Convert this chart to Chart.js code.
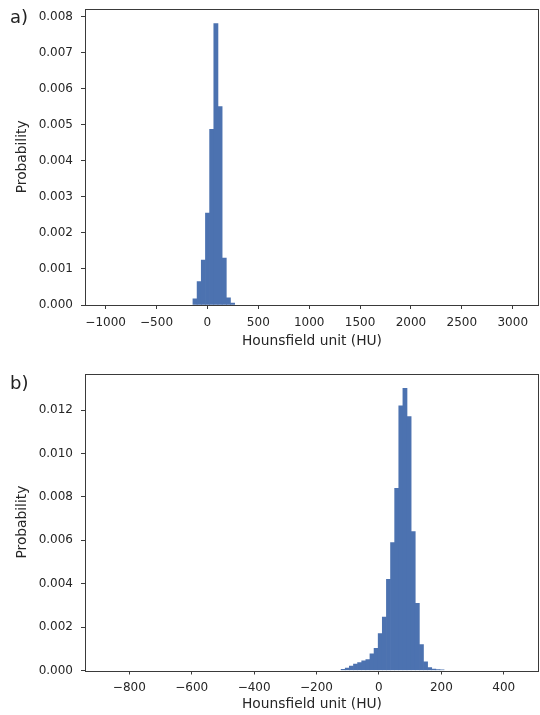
<!DOCTYPE html>
<html>
<head>
<meta charset="utf-8">
<script src="https://cdn.jsdelivr.net/npm/chart.js@4.4.0/dist/chart.umd.min.js"></script>
<style>
  html, body { margin: 0; padding: 0; background: #fff; }
  #wrap { position: relative; width: 540px; height: 715px; overflow: hidden; background: #fff; }
  canvas { position: absolute; left: 0; }
  .panel { position: absolute; left: 10px; font-family: "DejaVu Sans", sans-serif; font-size: 18px; color: #222; line-height: 1; }
</style>
</head>
<body>
<div id="wrap">
  <canvas id="ca" width="540" height="357" style="top:0px"></canvas>
  <canvas id="cb" width="540" height="350" style="top:365px"></canvas>
  <div class="panel" style="top:8px">a)</div>
  <div class="panel" style="top:374px">b)</div>
</div>
<script>
// ---------- Data ----------
// Panel a: full HU range histogram (bin centres, HU)
const binsA = [-122, -81, -40, 1, 42, 83, 124, 165, 206, 247];
const probA = [0.00017, 0.00065, 0.00125, 0.00255, 0.00488, 0.00782, 0.00551, 0.0013, 0.0002, 0.00005];
const xTicksA = [-1000, -500, 0, 500, 1000, 1500, 2000, 2500, 3000];
const yTicksA = [0, 0.001, 0.002, 0.003, 0.004, 0.005, 0.006, 0.007, 0.008];

// Panel b: zoomed HU range histogram (bin centres, HU)
const binsB = [-114.6, -101.4, -88.2, -75.0, -61.8, -48.6, -35.4, -22.2, -9.0, 4.2,
               17.4, 30.6, 43.8, 57.0, 70.2, 83.4, 96.6, 109.8, 123.0, 136.2,
               149.4, 162.6, 175.8, 189.0, 202.2];
const probB = [0.00005, 0.00011, 0.0002, 0.0003, 0.00036, 0.00045, 0.0005, 0.00077, 0.00102, 0.0017,
               0.00246, 0.0042, 0.0059, 0.0084, 0.0122, 0.0130, 0.0117, 0.0064, 0.0031, 0.0012,
               0.0004, 0.00013, 0.00006, 0.00004, 0.00003];
const xTicksB = [-800, -600, -400, -200, 0, 200, 400];
const yTicksB = [0, 0.002, 0.004, 0.006, 0.008, 0.010, 0.012];

const xLabel = 'Hounsfield unit (HU)';
const yLabel = 'Probability';

// ---------- Styling ----------
const BAR = '#4c72b0';
const INK = '#262626';
const SPINE = '#3a3a3a';
const tickFont = { family: 'DejaVu Sans', size: 12 };
const labelFont = { family: 'DejaVu Sans', size: 13.8 };

const framePlugin = {
  id: 'frame',
  afterDraw(chart) {
    const { ctx, chartArea: a } = chart;
    ctx.save();
    ctx.strokeStyle = SPINE;
    ctx.lineWidth = 1;
    ctx.strokeRect(Math.round(a.left) + 0.5, Math.round(a.top) + 0.5,
                   Math.round(a.right - a.left) - 1, Math.round(a.bottom - a.top));
    ctx.restore();
  }
};

function fmtHU(v) {
  return v < 0 ? '\u2212' + Math.abs(v) : String(v);
}

function makeChart(id, bins, probs, xTicks, yTicks, xr, yr, padTop, xAxisH, xTitleBottom) {
  const data = bins.map((b, i) => ({ x: b, y: probs[i] }));
  return new Chart(document.getElementById(id), {
    type: 'bar',
    data: {
      datasets: [{
        data,
        backgroundColor: BAR,
        borderWidth: 0,
        barPercentage: 1.0,
        categoryPercentage: 1.0
      }]
    },
    options: {
      responsive: false,
      animation: false,
      events: [],
      layout: { padding: { top: padTop, right: 1, left: 0, bottom: 0 } },
      plugins: { legend: { display: false }, tooltip: { enabled: false } },
      scales: {
        x: {
          type: 'linear',
          offset: false,
          min: xr[0], max: xr[1],
          grid: { offset: false, drawOnChartArea: false, drawTicks: true, tickLength: 4, color: SPINE, lineWidth: 1 },
          border: { display: false },
          afterBuildTicks: (s) => { s.ticks = xTicks.map(v => ({ value: v })); },
          ticks: {
            autoSkip: false, maxRotation: 0, minRotation: 0,
            font: tickFont, color: INK, padding: 6.5,
            callback: (v) => fmtHU(v)
          },
          title: { display: true, text: xLabel, font: labelFont, color: INK, padding: { top: 0, bottom: xTitleBottom } },
          afterFit: (s) => { s.height = xAxisH; s.paddingLeft = 0; s.paddingRight = 0; }
        },
        y: {
          type: 'linear',
          min: yr[0], max: yr[1],
          grid: { drawOnChartArea: false, drawTicks: true, tickLength: 4, color: SPINE, lineWidth: 1 },
          border: { display: false },
          afterBuildTicks: (s) => { s.ticks = yTicks.map(v => ({ value: v })); },
          ticks: {
            autoSkip: false,
            font: tickFont, color: INK, padding: 8,
            callback: (v) => Number(v).toFixed(3)
          },
          title: { display: true, text: yLabel, font: labelFont, color: INK, padding: { top: 14, bottom: 0 } },
          afterFit: (s) => { s.width = 85; s.paddingTop = 0; s.paddingBottom = 0; }
        }
      }
    },
    plugins: [framePlugin]
  });
}

makeChart('ca', binsA, probA, xTicksA, yTicksA, [-1203, 3258], [0, 0.00823], 8.7, 52, 7);
makeChart('cb', binsB, probB, xTicksB, yTicksB, [-942, 513], [0, 0.01368], 8.7, 44.5, 2);
</script>
</body>
</html>
